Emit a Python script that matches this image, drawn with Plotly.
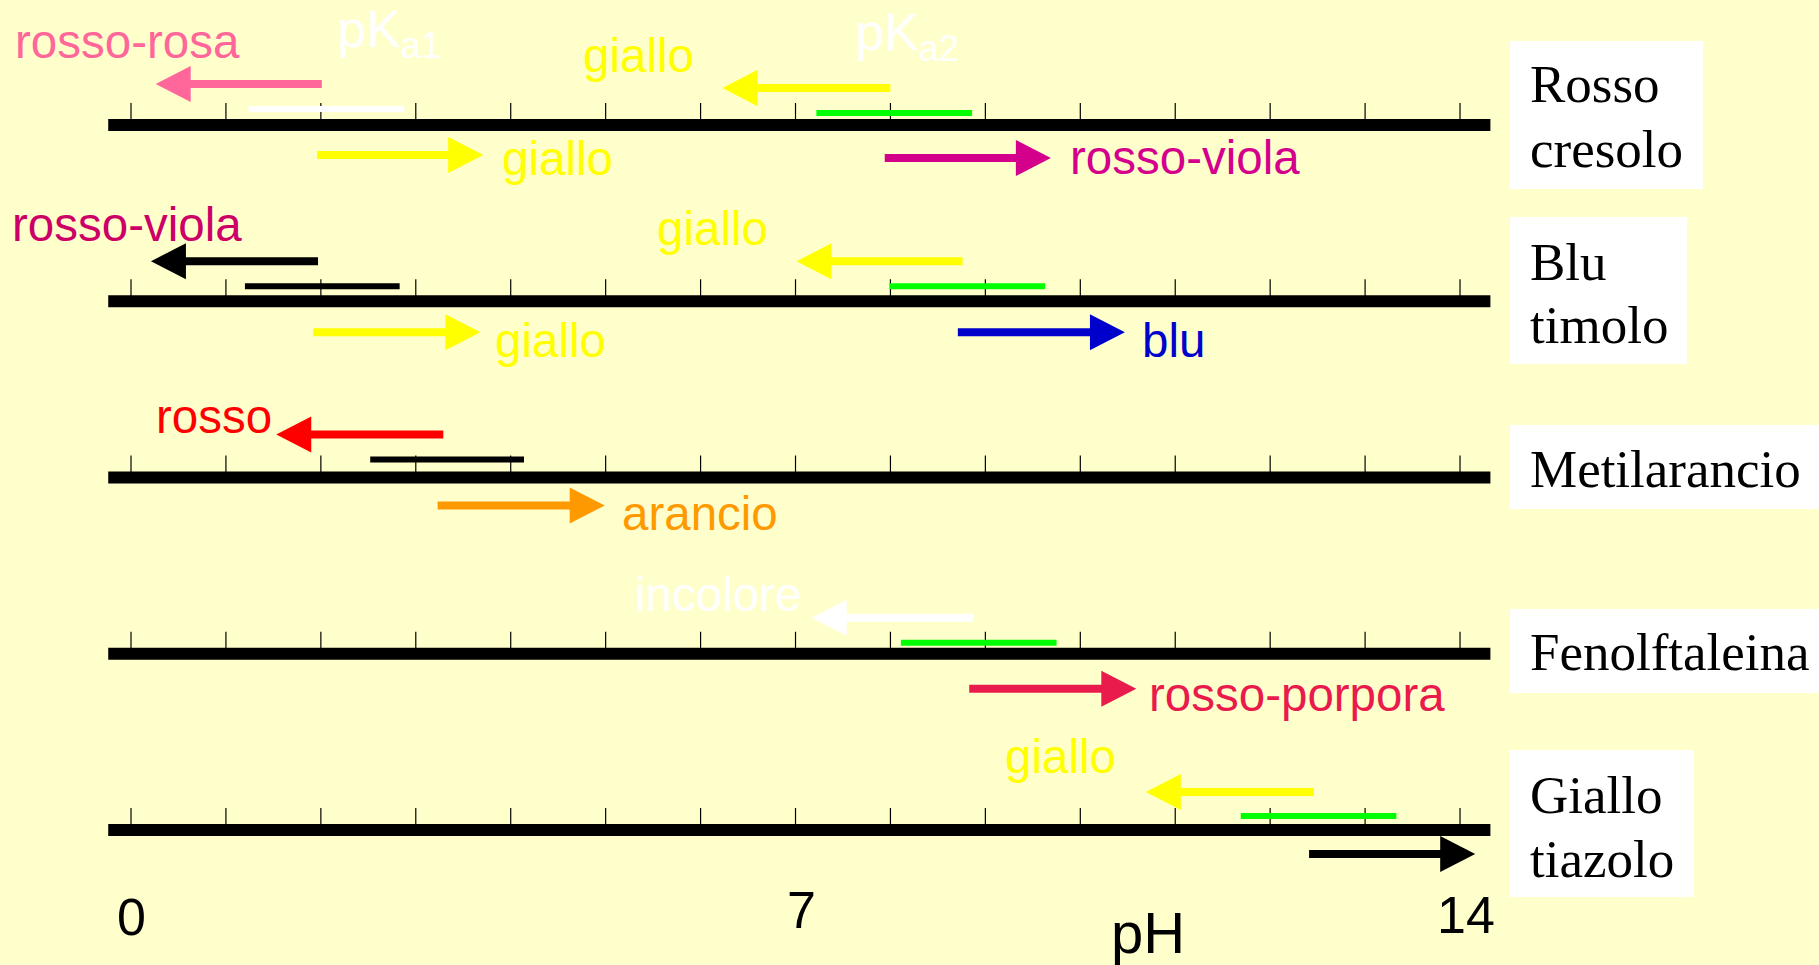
import plotly.graph_objects as go

# ---------------- canvas / scale constants ----------------
W, H = 1819, 965
PX0, PXU = 131.0, 94.93      # pixel of pH 0 and pixels per pH unit
ROW0, ROWU = 125.0, 176.25   # pixel of first row line and pixels per row

# ---------------- data ----------------
indicators = ["Rosso cresolo", "Blu timolo", "Metilarancio", "Fenolftaleina", "Giallo tiazolo"]
label_lines = [["Rosso", "cresolo"], ["Blu", "timolo"], ["Metilarancio"], ["Fenolftaleina"], ["Giallo", "tiazolo"]]
ph_ticks = list(range(0, 15))
ph_min, ph_max = -0.24, 14.32
axis_label_vals = [0, 7, 14]
axis_label_text = ["0", "7", "14"]
axis_title = "pH"

# transition (pKa) ranges
range_row = [0, 0, 1, 1, 2, 3, 4]
range_lo = [1.24, 7.22, 1.20, 7.99, 2.52, 8.11, 11.69]
range_hi = [2.88, 8.86, 2.83, 9.63, 4.14, 9.75, 13.33]

# colour-change arrows (from pH -> to pH)
arrow_row = [0, 0, 0, 0, 1, 1, 1, 1, 2, 2, 3, 3, 4, 4]
arrow_from = [2.01, 8.00, 1.96, 7.94, 1.97, 8.76, 1.92, 8.71, 3.29, 3.23, 8.88, 8.83, 12.46, 12.41]
arrow_to = [0.26, 6.23, 3.71, 9.69, 0.21, 7.01, 3.68, 10.47, 1.53, 4.99, 7.17, 10.59, 10.69, 14.16]

# colour names
colour_text = ["rosso-rosa", "giallo", "giallo", "rosso-viola",
               "rosso-viola", "giallo", "giallo", "blu",
               "rosso", "arancio",
               "incolore", "rosso-porpora",
               "giallo"]
colour_row = [0, 0, 0, 0, 1, 1, 1, 1, 2, 2, 3, 3, 4]
pka_text = ["pK<sub>a1</sub>", "pK<sub>a2</sub>"]

# ---------------- placement / styles ----------------
BG = "#FFFFCC"
PINK, YEL, MAG, VIO = "#FF6699", "#FFFF00", "#D4008C", "#CC0066"
BLUE, RED, ORA, WHITE = "#0000CC", "#FF0000", "#FF9900", "#FFFFFF"
CRIM, GREEN, BLACK = "#E91A4C", "#00FF00", "#000000"

range_color = [WHITE, GREEN, BLACK, GREEN, BLACK, GREEN, GREEN]
range_dy = [-16, -12, -15, -15, -18, -11, -14]          # px offset from row line

arrow_color = [PINK, YEL, YEL, MAG, BLACK, YEL, YEL, BLUE, RED, ORA, WHITE, CRIM, YEL, BLACK]
arrow_dy = [-41, -37, 30, 33, -40, -40, 31, 31, -43, 28, -36, 35, -38, 24]

colour_color = [PINK, YEL, YEL, MAG, VIO, YEL, YEL, BLUE, RED, ORA, WHITE, CRIM, YEL]
colour_left_px = [13, 581, 500, 1068, 10, 655, 493, 1140, 154, 620, 633, 1147, 1003]
colour_base_px = [58.3, 71.7, 175, 174, 240.7, 245, 357, 357, 433, 530, 611, 711, 773]

pka_left_px = [335, 853]
pka_base_px = [46.7, 50]

label_boxes = [(1510, 41, 1703, 189), (1510, 217, 1687, 364), (1510, 425, 1819, 509),
               (1510, 609, 1819, 693), (1509, 750, 1694, 897)]
label_base_px = [[101.7, 166.7], [280, 343], [486.7], [670], [813, 877]]
LABEL_LEFT = 1528

SANS = "Liberation Sans, Arial, sans-serif"
SERIF = "Liberation Serif, Times New Roman, serif"
FS = 47.5
FS_LABEL = 53

HEAD_LEN, HEAD_HALF, SHAFT = 35, 18, 8


def xph(px):
    return (px - PX0) / PXU


def yrow(px):
    return (px - ROW0) / ROWU


def mid_from_base_sans(base, fs):
    return base - 0.3465 * fs


fig = go.Figure()

# thick axis lines + ticks
lx, ly, tx, ty = [], [], [], []
for r in range(len(indicators)):
    lx += [ph_min, ph_max, None]
    ly += [r, r, None]
    for t in ph_ticks:
        tx += [t, t, None]
        ty += [r - 22 / ROWU, r, None]
fig.add_trace(go.Scatter(x=tx, y=ty, mode="lines", line=dict(color=BLACK, width=1.2),
                         hoverinfo="skip", showlegend=False))
fig.add_trace(go.Scatter(x=lx, y=ly, mode="lines", line=dict(color=BLACK, width=12),
                         hoverinfo="skip", showlegend=False))

# transition ranges
for r, lo, hi, c, dy in zip(range_row, range_lo, range_hi, range_color, range_dy):
    y = r + dy / ROWU
    fig.add_trace(go.Scatter(x=[lo, hi], y=[y, y], mode="lines", line=dict(color=c, width=6),
                             hoverinfo="skip", showlegend=False))

# arrows
hl = HEAD_LEN / PXU
hh = HEAD_HALF / ROWU
for r, a, b, c, dy in zip(arrow_row, arrow_from, arrow_to, arrow_color, arrow_dy):
    y = r + dy / ROWU
    d = 1 if b > a else -1
    base = b - d * hl
    fig.add_trace(go.Scatter(x=[a, base + d * 0.03], y=[y, y], mode="lines",
                             line=dict(color=c, width=SHAFT), hoverinfo="skip", showlegend=False))
    fig.add_trace(go.Scatter(x=[base, b, base, base], y=[y - hh, y, y + hh, y - hh],
                             mode="lines", fill="toself", fillcolor=c,
                             line=dict(color=c, width=0), hoverinfo="skip", showlegend=False))

annotations = []
# colour names
for txt, c, lpx, bpx in zip(colour_text, colour_color, colour_left_px, colour_base_px):
    annotations.append(dict(text=txt, x=xph(lpx), y=yrow(mid_from_base_sans(bpx, FS)),
                            xref="x", yref="y", xanchor="left", yanchor="middle",
                            showarrow=False, font=dict(family=SANS, size=FS, color=c)))
# pKa
for txt, lpx, bpx in zip(pka_text, pka_left_px, pka_base_px):
    annotations.append(dict(text=txt, x=xph(lpx), y=yrow(bpx - 14.2),
                            xref="x", yref="y", xanchor="left", yanchor="middle",
                            showarrow=False, font=dict(family=SANS, size=52, color=WHITE)))
# axis numbers
num_base = [935, 928, 933]
num_shift = [0, 6, 6]
for v, t, b, s in zip(axis_label_vals, axis_label_text, num_base, num_shift):
    annotations.append(dict(text=t, x=v, xshift=s, y=yrow(mid_from_base_sans(b, 52)),
                            xref="x", yref="y", xanchor="center", yanchor="middle",
                            showarrow=False, font=dict(family=SANS, size=52, color=BLACK)))
annotations.append(dict(text=axis_title, x=xph(1148), y=yrow(mid_from_base_sans(953, 58)),
                        xref="x", yref="y", xanchor="center", yanchor="middle",
                        showarrow=False, font=dict(family=SANS, size=58, color=BLACK)))

# indicator labels in white boxes
shapes = []
for (x0, y0, x1, y1), lines, bases in zip(label_boxes, label_lines, label_base_px):
    shapes.append(dict(type="rect", xref="paper", yref="paper",
                       x0=x0 / W, x1=x1 / W, y0=1 - y1 / H, y1=1 - y0 / H,
                       fillcolor=WHITE, line=dict(width=0), layer="below"))
    for ln, b in zip(lines, bases):
        annotations.append(dict(text=ln, x=LABEL_LEFT / W, y=1 - (b - 0.3375 * FS_LABEL) / H,
                                xref="paper", yref="paper", xanchor="left", yanchor="middle",
                                showarrow=False, font=dict(family=SERIF, size=FS_LABEL, color=BLACK)))

fig.update_layout(
    width=W, height=H,
    margin=dict(l=0, r=0, t=0, b=0, pad=0),
    paper_bgcolor=BG, plot_bgcolor=BG,
    xaxis=dict(range=[xph(0), xph(W)], visible=False, fixedrange=True),
    yaxis=dict(range=[yrow(H), yrow(0)], visible=False, fixedrange=True),
    annotations=annotations, shapes=shapes, showlegend=False,
)

fig.write_html("out.html", config={"displayModeBar": False},
               post_script="document.body.style.margin='0';document.body.style.overflow='hidden';")
